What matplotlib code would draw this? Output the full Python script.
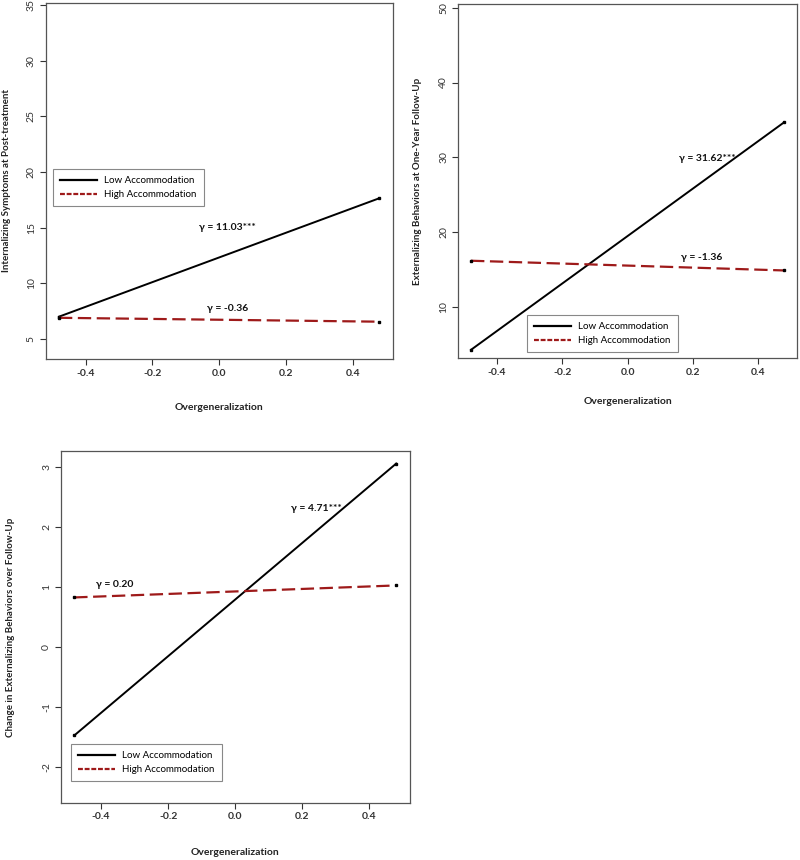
import matplotlib
matplotlib.use("Agg")
import matplotlib.pyplot as plt
from matplotlib.lines import Line2D

plt.rcParams["font.family"] = ["Lato", "DejaVu Sans"]

# moderator probe: overgeneralization at -1 SD / +1 SD
x_vals = [-0.48, 0.48]

# panel 1: internalizing symptoms at post-treatment
int_low = [7.0, 17.65]
int_high = [6.9, 6.55]
# panel 2: externalizing behaviors at one-year follow-up
ext_low = [4.3, 34.7]
ext_high = [16.2, 14.9]
# panel 3: change in externalizing behaviors over follow-up
chg_low = [-1.47, 3.06]
chg_high = [0.83, 1.03]

series_names = ["Low Accommodation", "High Accommodation"]
red = "#9e1a1a"

panels = [
    dict(rect=[0.057, 0.5826, 0.434, 0.414], low=int_low, high=int_high,
         ylim=(3.2, 35.2), yticks=[5, 10, 15, 20, 25, 30, 35],
         ylabel="Internalizing Symptoms at Post-treatment",
         notes=[(0.025, 15.0, "\u03b3 = 11.03***"), (0.025, 7.7, "\u03b3 = -0.36")],
         legend_at=(0.066, 0.8035), ylab_x=-0.101, xlab_y=-0.125),
    dict(rect=[0.5725, 0.5837, 0.424, 0.4116], low=ext_low, high=ext_high,
         ylim=(3.2, 50.5), yticks=[10, 20, 30, 40, 50],
         ylabel="Externalizing Behaviors at One-Year Follow-Up",
         notes=[(0.243, 29.8, "\u03b3 = 31.62***"), (0.228, 16.6, "\u03b3 = -1.36")],
         legend_at=(0.659, 0.6337), ylab_x=-0.105, xlab_y=-0.11),
    dict(rect=[0.076, 0.0666, 0.436, 0.409], low=chg_low, high=chg_high,
         ylim=(-2.59, 3.27), yticks=[-2, -1, 0, 1, 2, 3],
         ylabel="Change in Externalizing Behaviors over Follow-Up",
         notes=[(0.242, 2.32, "\u03b3 = 4.71***"), (-0.358, 1.05, "\u03b3 = 0.20")],
         legend_at=(0.089, 0.1349), ylab_x=-0.130, xlab_y=-0.13),
]

fig = plt.figure(figsize=(8, 8.6), dpi=100)

for p in panels:
    ax = fig.add_axes(p["rect"])
    ax.plot(x_vals, p["low"], color="black", lw=1.4, marker="s", ms=2)
    ax.plot(x_vals, p["high"], color=red, lw=1.6, ls=(0, (6, 2.5)), marker="s",
            ms=2, mfc="black", mec="black")
    ax.set_xlim(-0.52, 0.52)
    ax.set_ylim(*p["ylim"])
    ax.set_xticks([-0.4, -0.2, 0.0, 0.2, 0.4])
    ax.set_xticklabels(["-0.4", "-0.2", "0.0", "0.2", "0.4"], fontweight="bold")
    ax.set_yticks(p["yticks"])
    ax.set_yticklabels([str(t) for t in p["yticks"]], rotation=90, va="center")
    ax.tick_params(direction="out", length=4, width=0.8, labelsize=7.5, pad=3,
                   colors="#333333")
    for s in ax.spines.values():
        s.set_color("#555555")
        s.set_linewidth(0.9)
    ax.set_xlabel("Overgeneralization", fontsize=7.5, fontweight="bold", color="#222222")
    ax.xaxis.set_label_coords(0.5, p["xlab_y"])
    ax.set_ylabel(p["ylabel"], fontsize=7, fontweight="bold", color="#222222")
    ax.yaxis.set_label_coords(p["ylab_x"], 0.5)
    for nx, ny, txt in p["notes"]:
        ax.text(nx, ny, txt, ha="center", va="center", fontsize=7.5,
                fontweight="bold", color="#111111")

    handles = [Line2D([], [], color="black", lw=1.6),
               Line2D([], [], color=red, lw=1.6, ls=(0, (2.2, 0.8)))]
    leg = ax.legend(handles, series_names, loc="upper left",
                    bbox_to_anchor=p["legend_at"], bbox_transform=fig.transFigure,
                    borderaxespad=0, fontsize=7, handlelength=3.8,
                    handletextpad=0.7, labelspacing=0.5, borderpad=0.75,
                    fancybox=False, framealpha=1, edgecolor="#888888")
    leg.get_frame().set_linewidth(0.8)

fig.savefig("out.png", dpi=100)
